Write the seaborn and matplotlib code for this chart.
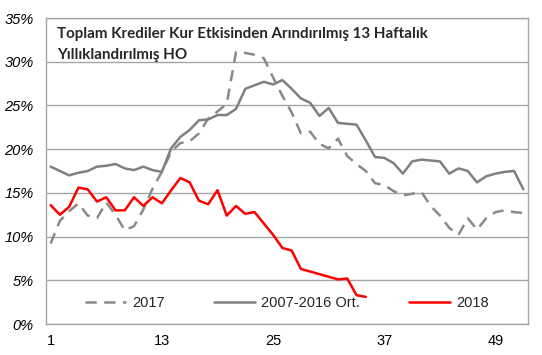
import matplotlib
matplotlib.use("Agg")
import matplotlib.pyplot as plt
import seaborn as sns
import numpy as np

# haftalik veriler (%)
weeks = list(range(1, 53))

avg_2007_2016 = [18.0, 17.5, 17.0, 17.3, 17.5, 18.0, 18.1, 18.3, 17.8, 17.6,
                 18.0, 17.6, 17.4, 20.1, 21.4, 22.2, 23.3, 23.4, 23.9, 23.9,
                 24.6, 26.9, 27.3, 27.7, 27.4, 27.9, 26.9, 25.8, 25.3, 23.8,
                 24.7, 23.0, 22.9, 22.8, 21.0, 19.1, 19.0, 18.4, 17.2, 18.6,
                 18.8, 18.7, 18.6, 17.2, 17.8, 17.5, 16.2, 16.9, 17.2, 17.4,
                 17.5, 15.4]

y2017 = [9.2, 11.8, 12.9, 13.8, 12.4, 12.1, 13.9, 12.5, 10.7, 11.2,
         13.1, 15.5, 17.4, 19.7, 20.7, 20.9, 21.8, 23.5, 24.3, 25.2,
         31.1, 31.0, 30.8, 30.4, 28.2, 26.1, 24.2, 21.8, 22.0, 20.6,
         20.1, 21.2, 19.2, 18.3, 17.5, 16.1, 15.9, 15.2, 14.7, 14.9,
         15.1, 13.5, 12.4, 11.0, 10.2, 12.1, 10.8, 12.1, 12.8, 13.0,
         12.8, 12.7]

y2018 = [13.6, 12.5, 13.4, 15.6, 15.4, 14.0, 14.5, 13.0, 13.0, 14.5,
         13.5, 14.5, 13.8, 15.3, 16.7, 16.2, 14.1, 13.7, 15.3, 12.4,
         13.5, 12.6, 12.8, 11.5, 10.2, 8.7, 8.4, 6.3, 6.0, 5.7,
         5.4, 5.1, 5.2, 3.3, 3.1]
weeks_2018 = weeks[:len(y2018)]

xticks = [1, 13, 25, 37, 49]
yticks = [0, 5, 10, 15, 20, 25, 30, 35]

title = "Toplam Krediler Kur Etkisinden Arındırılmış 13 Haftalık\nYıllıklandırılmış HO"

sns.set_style("white")
plt.rcParams['font.family'] = ['Liberation Sans', 'DejaVu Sans']

fig = plt.figure(figsize=(5.42, 3.55), dpi=100)
ax = fig.add_axes([46/542, 1-324/355, 482/542, 306/355])

sns.lineplot(x=weeks, y=y2017, ax=ax, color='#8a8a8a', linewidth=1.8,
             label='2017', dashes=False)
ax.lines[-1].set_dashes([4.5, 3])
sns.lineplot(x=weeks, y=avg_2007_2016, ax=ax, color='#808080', linewidth=1.8,
             label='2007-2016 Ort.')
sns.lineplot(x=weeks_2018, y=y2018, ax=ax, color='#ff0000', linewidth=1.8,
             label='2018')

ax.set_xlim(0.5, 52.5)
ax.set_ylim(0, 35)
ax.set_xticks(xticks)
ax.set_yticks(yticks)
ax.set_yticklabels([f"{v}%" for v in yticks], fontstyle='italic')
ax.tick_params(axis='both', length=0, labelsize=10.5, colors='black')
ax.tick_params(axis='y', pad=9)
ax.tick_params(axis='x', pad=7)
ax.grid(axis='y', color='#a6a6a6', linewidth=1)
ax.set_axisbelow(True)
for s in ax.spines.values():
    s.set_color('#a6a6a6')
    s.set_linewidth(1)
ax.set_xlabel('')
ax.set_ylabel('')

ax.text(0.023, 0.972, title, transform=ax.transAxes, ha='left', va='top',
        fontsize=10.9, fontweight='bold', family=['Lato', 'DejaVu Sans'],
        linespacing=1.65)

ax.legend(loc='center', bbox_to_anchor=(0.5, 0.069), ncol=3, frameon=False,
          fontsize=10.5, handlelength=2.8, handletextpad=0.4, columnspacing=3.4)

fig.savefig('out.png', dpi=100, facecolor='white')
